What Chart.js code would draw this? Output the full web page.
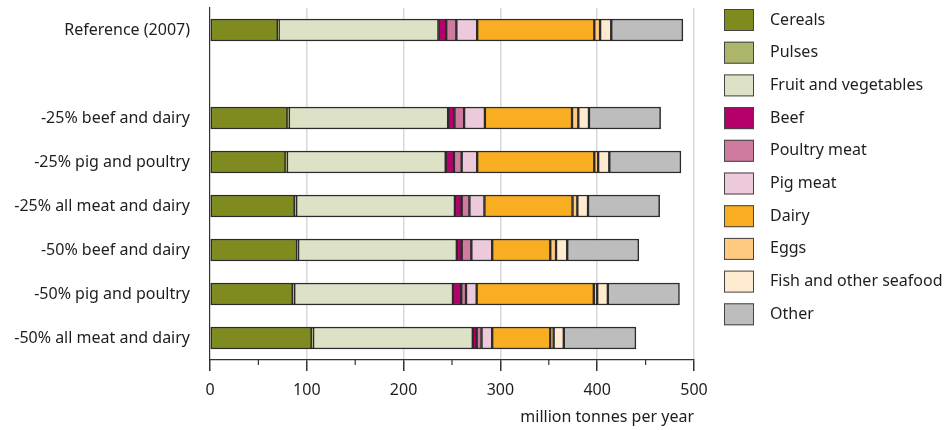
<!DOCTYPE html>
<html>
<head>
<meta charset="utf-8">
<script src="https://cdn.jsdelivr.net/npm/chart.js@4"></script>
<style>
  body { margin: 0; background: #fff; }
</style>
</head>
<body>
<canvas id="foodChart" width="944" height="430"></canvas>
<script>
// scenarios, the second slot is an empty spacer row
const categories = [
  "Reference (2007)", "",
  "-25% beef and dairy", "-25% pig and poultry", "-25% all meat and dairy",
  "-50% beef and dairy", "-50% pig and poultry", "-50% all meat and dairy",
];
const xTicks = [0, 100, 200, 300, 400, 500];

// million tonnes per year
const cereals  = [70,   null, 80,   78,   87.5, 90,   85.5, 105];
const pulses   = [1,    null, 1.5,  1.5,  1.5,  1,    1.5,  1.5];
const fruitVeg = [165,  null, 164.5, 164, 164,  164,  164,  165];
const beef     = [8,    null, 6.5,  8.5,  7,    5,    8.5,  4];
const poultry  = [10.5, null, 10,   8,    8,    10,   5,    5];
const pig      = [21.5, null, 21.5, 16,   15.5, 21.5, 11,   11];
const dairy    = [121,  null, 90,   121,  91,   60,   121,  60];
const eggs     = [6,    null, 6.5,  4,    5,    6,    3.5,  3.5];
const fish     = [11.5, null, 11,   11.5, 11,   11.5, 11,   10.5];
const other    = [74,   null, 74,   74,   74,   74,   74,   74.5];

const series = [
  ["Cereals", cereals, "#7f8a1f"],
  ["Pulses", pulses, "#adb56b"],
  ["Fruit and vegetables", fruitVeg, "#dde2c6"],
  ["Beef", beef, "#b5006b"],
  ["Poultry meat", poultry, "#cf7a9f"],
  ["Pig meat", pig, "#eccadb"],
  ["Dairy", dairy, "#f9ad20"],
  ["Eggs", eggs, "#fdca80"],
  ["Fish and other seafood", fish, "#ffecd0"],
  ["Other", other, "#bdbdbd"],
];

Chart.defaults.font.family = '"Noto Sans", sans-serif';
Chart.defaults.font.size = 16;
Chart.defaults.color = "#1e1e1e";

// legend on the right, boxes with labels
const sideLegend = {
  id: "sideLegend",
  afterDraw(chart) {
    const c = chart.ctx;
    c.save();
    c.font = '16px "Noto Sans", sans-serif';
    c.textBaseline = "middle";
    c.textAlign = "left";
    chart.data.datasets.forEach((ds, i) => {
      const y = 9 + i * 32.7;
      c.fillStyle = ds.backgroundColor;
      c.fillRect(724, y, 30, 22);
      c.strokeStyle = "#444";
      c.lineWidth = 1;
      c.strokeRect(724.5, y + 0.5, 29, 21);
      c.fillStyle = "#1e1e1e";
      c.fillText(ds.label, 770, y + 11);
    });
    c.restore();
  },
};

// short minor ticks half way between the labelled ones
const minorTicks = {
  id: "minorTicks",
  afterDraw(chart) {
    const x = chart.scales.x;
    const c = chart.ctx;
    c.save();
    c.strokeStyle = "#333";
    c.lineWidth = 1.2;
    for (let i = 0; i < xTicks.length - 1; i++) {
      const px = x.getPixelForValue((xTicks[i] + xTicks[i + 1]) / 2);
      c.beginPath();
      c.moveTo(px, x.top);
      c.lineTo(px, x.top + 5);
      c.stroke();
    }
    c.restore();
  },
};

const ctx = document.getElementById("foodChart").getContext("2d");
const foodChart = new Chart(ctx, {
  type: "bar",
  data: {
    labels: categories,
    datasets: series.map(([label, data, color]) => ({
      label: label,
      data: data,
      backgroundColor: color,
      borderColor: "#2b2b2b",
      borderWidth: 1.5,
      borderSkipped: false,
      barThickness: 22,
    })),
  },
  options: {
    indexAxis: "y",
    responsive: false,
    animation: false,
    layout: { padding: { top: 8, right: 250, left: 0, bottom: 0 } },
    scales: {
      x: {
        stacked: true,
        min: 0,
        max: 500,
        afterBuildTicks: (scale) => {
          scale.ticks = xTicks.map((v) => ({ value: v }));
        },
        afterFit: (scale) => {
          scale.height = 70;
          scale.paddingLeft = 0;
          scale.paddingRight = 0;
        },
        grid: {
          color: (c) => (c.tick && c.tick.value === 0 ? "rgba(0,0,0,0)" : "#d9d9d9"),
          lineWidth: 1.5,
          tickColor: "#333",
          tickLength: 11,
        },
        border: { color: "#333", width: 1.2 },
        ticks: { padding: 10 },
        title: {
          display: true,
          text: "million tonnes per year",
          align: "end",
          padding: { top: 0, bottom: 3 },
        },
      },
      y: {
        stacked: true,
        afterFit: (scale) => {
          scale.width = 210;
          scale.paddingTop = 0;
          scale.paddingBottom = 0;
        },
        grid: { display: false, drawTicks: false },
        border: { color: "#333", width: 1.2 },
        ticks: { padding: 20 },
      },
    },
    plugins: {
      legend: { display: false },
      tooltip: { enabled: false },
    },
  },
  plugins: [sideLegend, minorTicks],
});
</script>
</body>
</html>
